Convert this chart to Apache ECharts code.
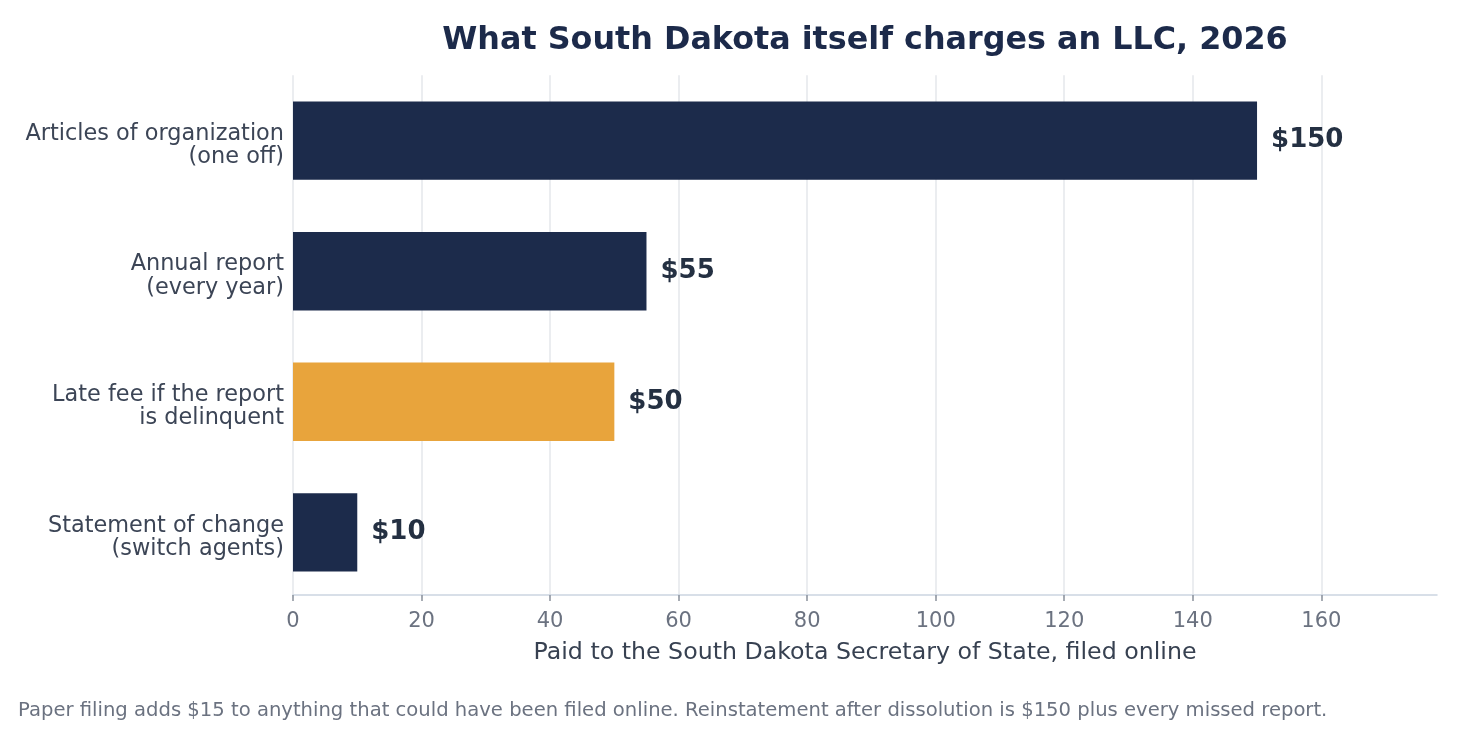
<!DOCTYPE html>
<html>
<head>
<meta charset="utf-8">
<script src="https://cdn.jsdelivr.net/npm/echarts@6/dist/echarts.min.js"></script>
<style>
  html, body { margin: 0; padding: 0; background: #fff; }
  #chart { width: 1462px; height: 731px; }
</style>
</head>
<body>
<div id="chart"></div>
<script>
// fee data
const categories = [
    'Articles of organization\n(one off)',
    'Annual report\n(every year)',
    'Late fee if the report\nis delinquent',
    'Statement of change\n(switch agents)'
]
const fees = [150, 55, 50, 10]
const highlight = [false, false, true, false]
const xTicks = [0, 20, 40, 60, 80, 100, 120, 140, 160]

const font = 'DejaVu Sans'
const navy = '#1c2b4b'
const orange = '#e8a43c'
const labelText = { fontFamily: font, fontSize: 22.4, color: '#3c4556', align: 'right' }

let myChart = echarts.init(document.getElementById('chart'))
let option = {
    animation: false,
    textStyle: { fontFamily: font },
    title: [{
        text: 'What South Dakota itself charges an LLC, 2026',
        left: 860,
        top: 20,
        textAlign: 'center',
        textStyle: { fontFamily: font, fontSize: 31.8, fontWeight: 'bold', color: '#1c2a4a' }
    }, {
        text: 'Paper filing adds $15 to anything that could have been filed online. Reinstatement after dissolution is $150 plus every missed report.',
        left: 18,
        top: 701,
        padding: 0,
        textStyle: { fontFamily: font, fontSize: 19.6, fontWeight: 'normal', color: '#6b7280' }
    }],
    // bands slightly taller than the axis span, axis pulled back up with offset
    grid: { left: 293, right: 25, top: 75.3, bottom: 133.3, containLabel: false },
    xAxis: {
        type: 'value',
        min: 0,
        max: 178,
        interval: 20,
        offset: -2.7,
        name: 'Paid to the South Dakota Secretary of State, filed online',
        nameLocation: 'middle',
        nameGap: 46,
        nameTextStyle: { fontFamily: font, fontSize: 23.7, color: '#374151' },
        axisLine: { show: true, lineStyle: { color: '#cbd5e1', width: 1.5 } },
        axisTick: { show: true, length: 6, customValues: xTicks, lineStyle: { color: '#8b919c', width: 1.5 } },
        axisLabel: { customValues: xTicks, margin: 16, fontFamily: font, fontSize: 21, color: '#6b7280' },
        splitLine: { show: true, lineStyle: { color: '#e5e7eb', width: 1.5 } }
    },
    yAxis: {
        type: 'category',
        inverse: true,
        data: categories,
        axisLine: { show: false },
        axisTick: { show: false },
        axisLabel: {
            margin: 9,
            ...labelText,
            // uneven line heights push the two-line label a few px below the bar centre
            formatter: v => v.split('\n').map((s, i) => '{' + (i ? 'b' : 't') + '|' + s + '}').join('\n'),
            rich: {
                t: { ...labelText, lineHeight: 33.4 },
                b: { ...labelText, lineHeight: 13.4 }
            }
        }
    },
    series: [{
        type: 'bar',
        barWidth: '60%',
        data: fees.map((v, i) => ({
            value: v,
            itemStyle: { color: highlight[i] ? orange : navy }
        })),
        label: {
            show: true,
            position: 'right',
            distance: 14,
            formatter: p => '$' + p.value,
            fontFamily: font,
            fontSize: 26,
            fontWeight: 'bold',
            color: '#243042'
        }
    }]
}
myChart.setOption(option)
</script>
</body>
</html>
